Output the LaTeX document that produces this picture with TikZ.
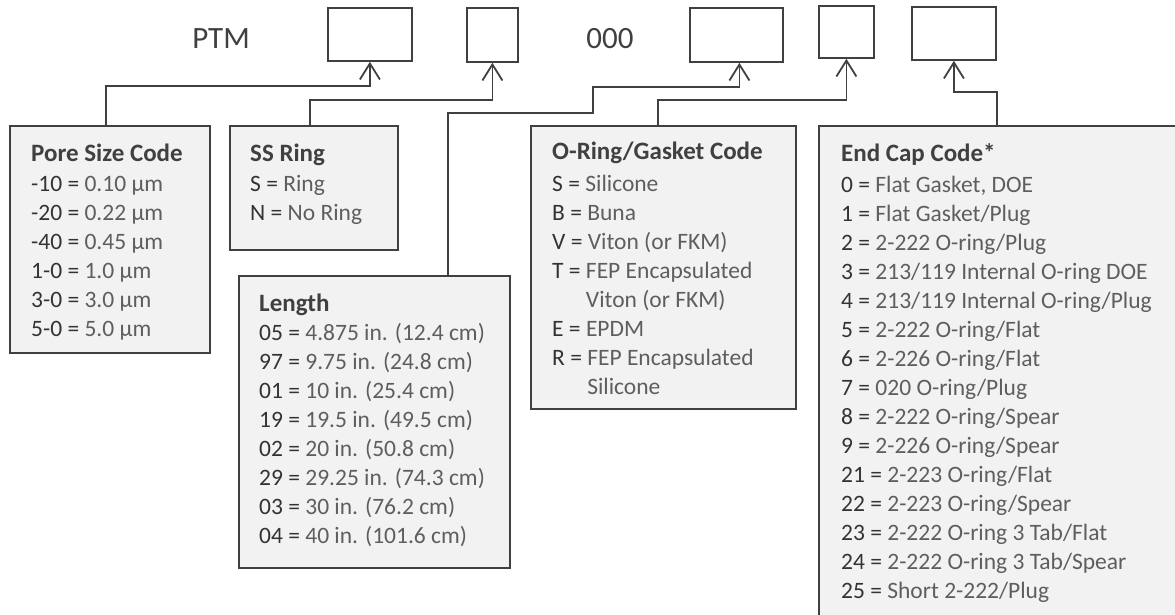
\documentclass[tikz,border=0pt]{standalone}
\usepackage{fontspec}
\setmainfont{Carlito}
\usetikzlibrary{arrows.meta}
\definecolor{boxline}{HTML}{404040}
\definecolor{boxfill}{HTML}{F2F2F2}
\definecolor{codetext}{HTML}{333333}
\definecolor{valtext}{HTML}{5E5E5E}
\newcommand{\cde}[1]{\textcolor{codetext}{#1}}
\newcommand{\kv}[2]{\cde{#1 =} #2}
\tikzset{
  codebox/.style={draw=boxline, line width=1.8pt, fill=white, anchor=north west, inner sep=0pt},
  infobox/.style={draw=boxline, line width=1.8pt, fill=boxfill, anchor=north west, inner sep=0pt},
  head/.style={anchor=base west, inner sep=0pt, text=boxline, font=\fontsize{25}{30}\selectfont\bfseries},
  entry/.style={anchor=base west, inner sep=0pt, text=valtext, font=\fontsize{23.5}{29}\selectfont},
  link/.style={draw=boxline, line width=1.8pt, -{Straight Barb[length=16pt,width=20pt]}}
}
\begin{document}
\begin{tikzpicture}[x=1pt,y=-1pt]
\path[use as bounding box] (0,0) rectangle (1175,615);
\clip (0,0) rectangle (1175,615);
% part number
\node[anchor=base, inner sep=0pt, text=boxline, font=\fontsize{31}{37}\selectfont] (ptm) at (221,49) {PTM};
\node[anchor=base, inner sep=0pt, text=boxline, font=\fontsize{31}{37}\selectfont] (zeros) at (610,49) {000};
\node[codebox, minimum width=84pt, minimum height=53pt] (pc) at (327,7) {};
\node[codebox, minimum width=51pt, minimum height=54pt] (rc) at (466,7) {};
\node[codebox, minimum width=93pt, minimum height=54pt] (lc) at (689,7) {};
\node[codebox, minimum width=55pt, minimum height=52pt] (gcd) at (818,5) {};
\node[codebox, minimum width=84pt, minimum height=53pt] (ecd) at (911,6) {};
% pore size
\node[infobox, minimum width=200pt, minimum height=227pt] (pore) at (9,125) {};
\node[head] (porehead) at (31,161) {Pore Size Code};
\foreach \t [count=\i] in {\kv{-10}{0.10 µm}, \kv{-20}{0.22 µm}, \kv{-40}{0.45 µm},
    \kv{1-0}{1.0 µm}, \kv{3-0}{3.0 µm}, \kv{5-0}{5.0 µm}}
  \node[entry] (pore\i) at (31,{162+29*\i}) {\t};
% ss ring
\node[infobox, minimum width=168pt, minimum height=124pt] (ring) at (229,125) {};
\node[head] (ringhead) at (250,161) {SS Ring};
\foreach \t [count=\i] in {\kv{S}{Ring}, \kv{N}{No Ring}}
  \node[entry] (ring\i) at (250,{162+29*\i}) {\t};
% length
\node[infobox, minimum width=271pt, minimum height=292pt] (len) at (238,275) {};
\node[head] (lenhead) at (259,311) {Length};
\foreach \t [count=\i] in {\kv{05}{4.875 in. (12.4 cm)}, \kv{97}{9.75 in. (24.8 cm)},
    \kv{01}{10 in. (25.4 cm)}, \kv{19}{19.5 in. (49.5 cm)}, \kv{02}{20 in. (50.8 cm)},
    \kv{29}{29.25 in. (74.3 cm)}, \kv{03}{30 in. (76.2 cm)}, \kv{04}{40 in. (101.6 cm)}}
  \node[entry] (len\i) at (259,{311+29*\i}) {\t};
% o-ring / gasket
\node[infobox, minimum width=265pt, minimum height=283pt] (gasket) at (530,125) {};
\node[head] (gashead) at (552,160) {O-Ring/Gasket Code};
\foreach \t [count=\i] in {\kv{S}{Silicone}, \kv{B}{Buna}, \kv{V}{Viton (or FKM)},
    \kv{T}{FEP Encapsulated}, \phantom{\cde{T =}} Viton (or FKM), \kv{E}{EPDM},
    \kv{R}{FEP Encapsulated}, \phantom{\cde{R =}} Silicone}
  \node[entry] (gas\i) at (552,{162+29*\i}) {\t};
% end cap
\node[infobox, minimum width=400pt, minimum height=520pt] (endcap) at (818,125) {};
\node[head] (endhead) at (841,161) {End Cap Code*};
\foreach \t [count=\i] in {\kv{0}{Flat Gasket, DOE}, \kv{1}{Flat Gasket/Plug},
    \kv{2}{2-222 O-ring/Plug}, \kv{3}{213/119 Internal O-ring DOE},
    \kv{4}{213/119 Internal O-ring/Plug}, \kv{5}{2-222 O-ring/Flat},
    \kv{6}{2-226 O-ring/Flat}, \kv{7}{020 O-ring/Plug}, \kv{8}{2-222 O-ring/Spear},
    \kv{9}{2-226 O-ring/Spear}, \kv{21}{2-223 O-ring/Flat}, \kv{22}{2-223 O-ring/Spear},
    \kv{23}{2-222 O-ring 3 Tab/Flat}, \kv{24}{2-222 O-ring 3 Tab/Spear},
    \kv{25}{Short 2-222/Plug}}
  \node[entry] (end\i) at (841,{163+29*\i}) {\t};
% connectors
\draw[link] ([xshift=97pt]pore.north west) -- ++(0,-39) -| (pc.south);
\draw[link] ([xshift=81pt]ring.north west) -- ++(0,-25) -| (rc.south);
\draw[link] ([xshift=210pt]len.north west) |- (593,113) -- (593,87) -| ([xshift=3pt]lc.south);
\draw[link] ([xshift=128pt]gasket.north west) -- ++(0,-25) -| (gcd.south);
\draw[link] ([xshift=179pt]endcap.north west) -- ++(0,-33) -| (ecd.south);
\end{tikzpicture}
\end{document}
